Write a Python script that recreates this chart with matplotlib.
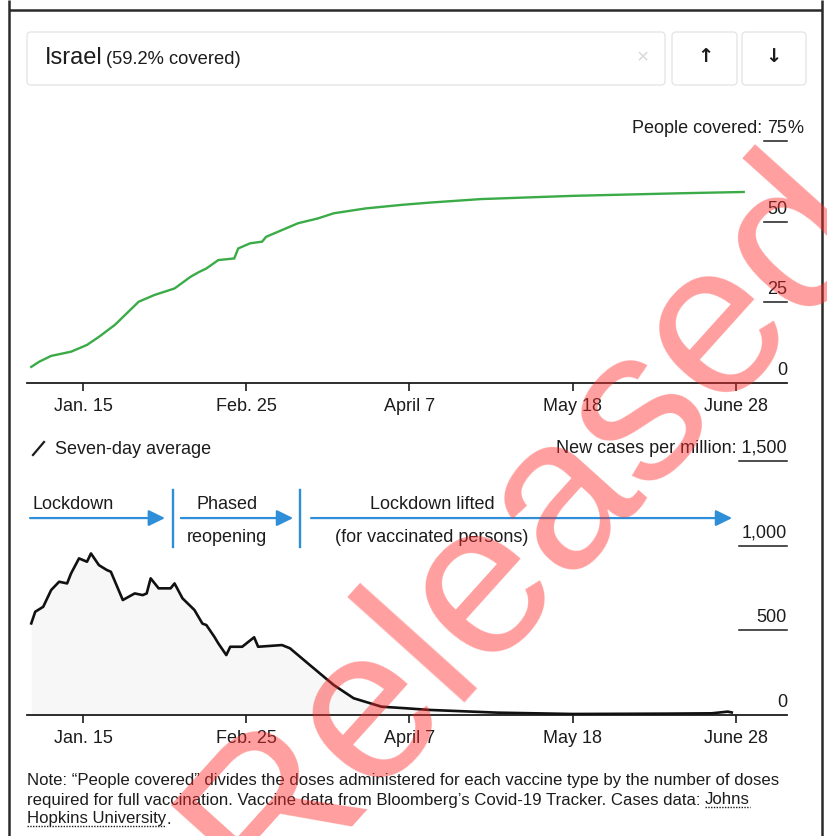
import matplotlib
matplotlib.use("Agg")
import matplotlib.pyplot as plt
from matplotlib.patches import FancyBboxPatch
from matplotlib.transforms import blended_transform_factory

plt.rcParams["font.family"] = ["Liberation Sans", "DejaVu Sans"]

# ---- data (x = days since Jan. 1, 2021) ----
tick_days = [14, 55, 96, 137, 178]
tick_labels = ["Jan. 15", "Feb. 25", "April 7", "May 18", "June 28"]

cov_days = [1, 3, 6, 11, 15, 18, 22, 25, 28, 32, 37, 41, 43, 45, 48, 52, 53,
            56, 59, 60, 64, 68, 73, 77, 85, 94, 101, 114, 137, 164, 180]
cov_pct = [5.0, 6.6, 8.4, 9.7, 11.8, 14.3, 18.0, 21.6, 25.2, 27.3, 29.3, 32.9,
           34.3, 35.5, 38.1, 38.6, 41.7, 43.3, 43.8, 45.3, 47.4, 49.5, 51.0,
           52.6, 54.1, 55.2, 55.9, 57.0, 58.0, 58.8, 59.2]
cov_ticks = [0, 25, 50]
cov_top = 75

case_days = [1, 2, 4, 6, 8, 10, 11, 13, 15, 16, 18, 20, 21, 24, 27, 29, 30,
             31, 33, 36, 37, 39, 42, 44, 45, 47, 48, 50, 51, 54, 57, 58, 64,
             66, 71, 77, 82, 89, 95, 101, 118, 137, 160, 172, 176, 177]
case_avg = [541, 610, 639, 738, 787, 777, 836, 925, 905, 954, 885, 856, 846,
            679, 718, 708, 718, 807, 748, 748, 777, 689, 620, 540, 531, 462,
            423, 354, 403, 403, 459, 403, 413, 394, 295, 177, 99, 49, 40, 30,
            14, 6, 8, 10, 20, 15]
case_ticks = [0, 500, 1000]
case_top = 1500

phase_top = ["Lockdown", "Phased", "Lockdown lifted"]
phase_bottom = ["", "reopening", "(for vaccinated persons)"]
phase_start = [0.7, 38.6, 71.3]
phase_end = [34.6, 66.8, 177.1]
phase_dividers = [36.6, 68.5]

country = "Israel"
covered_share = 59.2

W, H = 827, 836
fig = plt.figure(figsize=(W / 100, H / 100), dpi=100)
fig.patch.set_facecolor("white")


def fx(x):
    return x / W


def fy(y):
    return 1 - y / H


INK = "#1c1c1c"
GREEN = "#3aab47"
BLUE = "#2e8fd8"
X0, X1 = 27, 787
XMAX = 14 + (X1 - 83) / 3.98
XMIN = 14 + (X0 - 83) / 3.98
FS = 13

# full-figure layer (pixel coordinates, y downwards)
ov = fig.add_axes([0, 0, 1, 1], zorder=-1)
ov.set_xlim(0, W)
ov.set_ylim(H, 0)
ov.axis("off")


def style_axis(ax):
    for s in ("top", "left", "right"):
        ax.spines[s].set_visible(False)
    ax.spines["bottom"].set_color(INK)
    ax.spines["bottom"].set_linewidth(1.3)
    ax.set_xlim(XMIN, XMAX)
    ax.set_xticks(tick_days)
    ax.set_xticklabels(tick_labels, fontsize=FS, color=INK)
    ax.tick_params(axis="x", direction="out", length=6, width=1.2,
                   color=INK, pad=5)
    ax.set_yticks([])
    ax.patch.set_alpha(0)


def value_label(ax, v, text, ul_left_px):
    tr = blended_transform_factory(ax.transAxes, ax.transData)
    ax.annotate(text, xy=(1.0, v), xycoords=tr, xytext=(0, 3),
                textcoords="offset points", ha="right", va="bottom",
                fontsize=FS, color=INK, annotation_clip=False)
    if v != 0:
        left = (ul_left_px - X0) / (X1 - X0)
        ax.plot([left, 1.0], [v, v], transform=tr, color=INK, lw=1.1,
                clip_on=False)


# ---- vaccination panel ----
ax1 = fig.add_axes([fx(X0), fy(383), fx(X1) - fx(X0), fy(141) - fy(383)])
style_axis(ax1)
ax1.set_ylim(0, cov_top)
ax1.plot(cov_days, cov_pct, color=GREEN, lw=1.7, solid_joinstyle="miter")
for v in cov_ticks:
    value_label(ax1, v, str(v), 764)
tr1 = blended_transform_factory(ax1.transAxes, ax1.transData)
t75 = ax1.annotate(str(cov_top), xy=(1.0, cov_top), xycoords=tr1,
                   xytext=(0, 3), textcoords="offset points", ha="right",
                   va="bottom", fontsize=FS, color=INK, annotation_clip=False)
ax1.annotate("%", xy=(1, 0), xycoords=t75, ha="left", va="bottom",
             fontsize=FS, color=INK, annotation_clip=False)
ax1.annotate("People covered: ", xy=(0, 0), xycoords=t75, ha="right",
             va="bottom", fontsize=FS, color=INK, annotation_clip=False)
ax1.plot([(764 - X0) / (X1 - X0), 1.0], [cov_top, cov_top], transform=tr1,
         color=INK, lw=1.1, clip_on=False)

# ---- new cases panel ----
ax2 = fig.add_axes([fx(X0), fy(715), fx(X1) - fx(X0), fy(461) - fy(715)])
style_axis(ax2)
ax2.set_ylim(0, case_top)
ax2.fill_between(case_days, case_avg, 0, color="#f7f7f7", lw=0, zorder=0)
ax2.plot(case_days, case_avg, color="#111111", lw=1.9, zorder=3)
for v in case_ticks:
    value_label(ax2, v, f"{v:,}", 739)
tr2 = blended_transform_factory(ax2.transAxes, ax2.transData)
ax2.annotate(f"New cases per million: {case_top:,}", xy=(1.0, case_top),
             xycoords=tr2, xytext=(0, 3), textcoords="offset points",
             ha="right", va="bottom", fontsize=FS, color=INK,
             annotation_clip=False)
ax2.plot([(739 - X0) / (X1 - X0), 1.0], [case_top, case_top], transform=tr2,
         color=INK, lw=1.1, clip_on=False)

# legend entry
ov.plot([33, 44], [455, 442], color=INK, lw=1.6)
ov.text(55, 449, "Seven-day average", fontsize=FS, color=INK,
        ha="left", va="center")

# policy phases
arrow_y, top_y, bot_y = 1163, 1245, 1051
phase_centers = [1.2, 50.2, 101.7]
for a, b in zip(phase_start, phase_end):
    ax2.annotate("", xy=(b, arrow_y), xytext=(a, arrow_y),
                 arrowprops=dict(arrowstyle="-|>,head_length=0.55,head_width=0.27",
                                 color=BLUE, lw=1.6, mutation_scale=18,
                                 shrinkA=0, shrinkB=0),
                 annotation_clip=False)
for i, (name, sub, cx) in enumerate(zip(phase_top, phase_bottom, phase_centers)):
    ha = "left" if i == 0 else "center"
    ax2.text(cx, top_y, name, ha=ha, va="center", fontsize=FS, color=INK,
             clip_on=False)
    if sub:
        ax2.text(cx, bot_y, sub, ha=ha, va="center", fontsize=FS, color=INK,
                 clip_on=False)
for d in phase_dividers:
    ax2.plot([d, d], [992, 1328], color=BLUE, lw=1.7, clip_on=False)


# ---- header controls ----
def box(x0, y0, x1, y1):
    p = FancyBboxPatch((x0, y0), x1 - x0, y1 - y0,
                       boxstyle="round,pad=0,rounding_size=4",
                       fc="white", ec="#e6e6e6", lw=1.0)
    ov.add_patch(p)


box(27, 32, 665, 85)
box(672, 32, 737, 85)
box(742, 32, 806, 85)
ov.text(45, 58, country, fontsize=17, color=INK, ha="left", va="center")
ov.text(106, 59, f"({covered_share}% covered)", fontsize=13.2,
        color=INK, ha="left", va="center")
ov.text(643, 58, "×", fontsize=15, color="#d8d8d8", ha="center", va="center")
ov.text(705, 57, "↑", fontsize=14, color=INK, ha="center", va="center",
        fontweight="bold", family=["DejaVu Sans"])
ov.text(773, 57, "↓", fontsize=14, color=INK, ha="center", va="center",
        fontweight="bold", family=["DejaVu Sans"])

# frame
for xs, ys in (([9, 9], [0, 836]), ([822, 822], [0, 836]), ([9, 822], [10, 10])):
    ov.plot(xs, ys, color="#2a2a2a", lw=1.8, solid_capstyle="butt")

# ---- footnote ----
note1 = ("Note: \u201cPeople covered\u201d divides the doses administered for "
         "each vaccine type by the number of doses")
note2 = ("required for full vaccination. Vaccine data from Bloomberg\u2019s "
         "Covid-19 Tracker. Cases data: ")
fs_note = 12.1
ov.text(27, 781, note1, fontsize=fs_note, color=INK, ha="left", va="center")
t2 = ov.text(27, 800, note2, fontsize=fs_note, color=INK, ha="left",
             va="center")
t_j = ov.annotate("Johns", xy=(1, 0.5), xycoords=t2, ha="left", va="center",
                  fontsize=fs_note, color=INK)
t3 = ov.text(27, 819, "Hopkins University", fontsize=fs_note, color=INK,
             ha="left", va="center")
ov.annotate(".", xy=(1, 0.5), xycoords=t3, ha="left", va="center",
            fontsize=fs_note, color=INK)

fig.canvas.draw()
inv = ov.transData.inverted()
for t in (t_j, t3):
    bb = t.get_window_extent()
    (a, b), (c, _) = inv.transform([(bb.x0, bb.y0 + 1), (bb.x1, bb.y0 + 1)])
    ov.plot([a, c], [b, b], color=INK, lw=1.0, ls=(0, (1, 1)))

# watermark stamp
fig.text(fx(570), fy(565), "Released", rotation=48, rotation_mode="anchor",
         fontsize=156, color="#ff2a2a", alpha=0.45, ha="center",
         va="baseline", zorder=100)

fig.savefig("out.png", dpi=100, facecolor="white")
